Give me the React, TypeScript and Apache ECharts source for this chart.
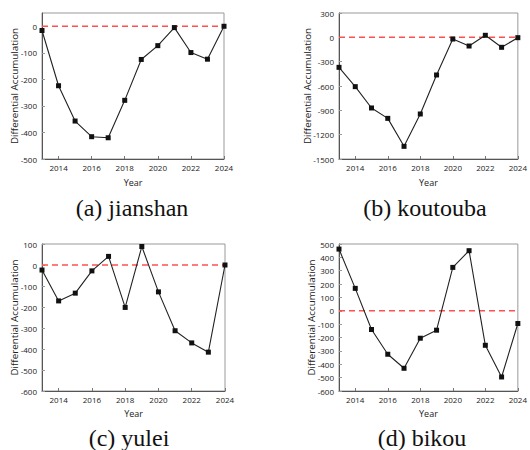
import React, { useEffect, useRef } from "react";
import * as echarts from "echarts";

const years = [2013, 2014, 2015, 2016, 2017, 2018, 2019, 2020, 2021, 2022, 2023, 2024];
const yearLabels = [2014, 2016, 2018, 2020, 2022, 2024];

const jianshan = [-16, -224, -357, -416, -420, -279, -125, -73, -5, -99, -124, 0];
const koutouba = [-370, -608, -871, -999, -1344, -945, -464, -21, -107, 25, -123, -4];
const yulei = [-24, -171, -134, -28, 41, -202, 88, -128, -313, -371, -415, 0];
const bikou = [462, 168, -140, -325, -430, -205, -145, 325, 450, -258, -495, -95];

const captions = ["(a) jianshan", "(b) koutouba", "(c) yulei", "(d) bikou"];
const yMins = [-500, -1500, -600, -600];
const yMaxs = [50, 300, 100, 500];
const yIntervals = [100, 300, 100, 100];
const yLabelMax = [0, 300, 100, 500];
const zeroLine = [0, 0];

const seriesData = [jianshan, koutouba, yulei, bikou];

const grids = [
  { left: 42, top: 13, width: 182, height: 146 },
  { left: 339, top: 13, width: 183, height: 146 },
  { left: 42, top: 244, width: 183, height: 147 },
  { left: 339, top: 244, width: 183, height: 147 },
];
const yNameGaps = [23, 27, 23, 23];
const xNameGaps = [19, 19, 18, 18];
const captionPos = [
  [132, 208],
  [425, 208],
  [129, 438],
  [422, 438],
];

const FONT = "Open Sans";

export default function App() {
  const ref = useRef<HTMLDivElement>(null);
  useEffect(() => {
    if (!ref.current) return;
    const chart = echarts.init(ref.current, undefined, { renderer: "svg" });
    const xAxis: any[] = [];
    const yAxis: any[] = [];
    const series: any[] = [];
    grids.forEach((g, i) => {
      const yLabels: number[] = [];
      for (let v = yMins[i]; v <= yLabelMax[i]; v += yIntervals[i]) yLabels.push(v);
      xAxis.push({
        type: "value",
        gridIndex: i,
        min: 2013,
        max: 2024,
        interval: 1,
        name: "Year",
        nameLocation: "middle",
        nameGap: xNameGaps[i],
        nameMoveOverlap: false,
        nameTextStyle: { fontFamily: FONT, fontSize: 9, color: "#222" },
        axisLine: { show: true, onZero: false, lineStyle: { color: "#555", width: 1 } },
        axisTick: { show: true, inside: true, length: 3, customValues: yearLabels, lineStyle: { color: "#777" } },
        axisLabel: {
          customValues: yearLabels,
          fontFamily: FONT,
          fontSize: 8,
          color: "#222",
          margin: 4,
          formatter: (v: number) => String(v),
        },
        splitLine: { show: false },
      });
      yAxis.push({
        type: "value",
        gridIndex: i,
        min: yMins[i],
        max: yMaxs[i],
        interval: yIntervals[i],
        name: "Differential Accumulation",
        nameLocation: "middle",
        nameGap: yNameGaps[i],
        nameMoveOverlap: false,
        nameTextStyle: { fontFamily: FONT, fontSize: 9.8, color: "#222" },
        axisLine: { show: true, onZero: false, lineStyle: { color: "#555", width: 1 } },
        axisTick: { show: true, inside: true, length: 3, customValues: yLabels, lineStyle: { color: "#999" } },
        axisLabel: {
          customValues: yLabels,
          fontFamily: FONT,
          fontSize: 8,
          color: "#222",
          margin: 5,
          formatter: (v: number) => String(v),
        },
        splitLine: { show: false },
      });
      series.push({
        type: "line",
        xAxisIndex: i,
        yAxisIndex: i,
        data: [
          [2013, zeroLine[0]],
          [2024, zeroLine[1]],
        ],
        symbol: "none",
        showSymbol: false,
        lineStyle: { color: "#ff5050", width: 1.5, type: [6, 4] },
        emphasis: { disabled: true },
        silent: true,
        z: 1,
      });
      series.push({
        type: "line",
        xAxisIndex: i,
        yAxisIndex: i,
        data: years.map((y, k) => [y, seriesData[i][k]]),
        symbol: "rect",
        symbolSize: 5,
        itemStyle: { color: "#111" },
        lineStyle: { color: "#222", width: 1.1 },
        z: 3,
      });
    });
    chart.setOption({
      animation: false,
      backgroundColor: "#fff",
      grid: grids.map((g) => ({ ...g, show: true, borderColor: "#999", borderWidth: 1, backgroundColor: "transparent" })),
      xAxis,
      yAxis,
      series,
      graphic: captions.map((c, i) => ({
        type: "text",
        x: captionPos[i][0],
        y: captionPos[i][1],
        style: {
          text: c,
          fontFamily: "Liberation Serif",
          fontSize: 24,
          fill: "#111",
          align: "center",
          verticalAlign: "middle",
        },
      })),
    });
    return () => chart.dispose();
  }, []);
  return (
    <div
      ref={ref}
      style={{ position: "absolute", left: 0, top: 0, width: 530, height: 450 }}
    />
  );
}
